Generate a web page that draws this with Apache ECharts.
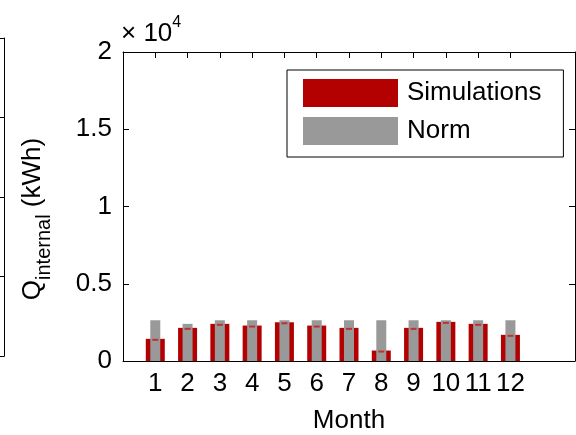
<!DOCTYPE html>
<html>
<head>
<meta charset="utf-8">
<script src="https://cdn.jsdelivr.net/npm/echarts@6/dist/echarts.min.js"></script>
<style>html,body{margin:0;padding:0;background:#fff}#c{width:576px;height:435px}</style>
</head>
<body>
<div id="c"></div>
<script>
var months = [1,2,3,4,5,6,7,8,9,10,11,12];
var simulations = [1435, 2145, 2404, 2294, 2507, 2294, 2145, 678, 2145, 2533, 2404, 1693];
var norm = [2637, 2404, 2637, 2637, 2637, 2637, 2637, 2637, 2637, 2637, 2637, 2637];
var yTicks = [0, 5000, 10000, 15000, 20000];

var FONT = 'Liberation Sans';
var chart = echarts.init(document.getElementById('c'), null, {renderer: 'canvas'});
function pairs(arr){ return arr.map(function(v,i){ return [months[i], v]; }); }
var axisLineStyle = {color:'#000', width:1};
var option = {
  backgroundColor: '#fff',
  animation: false,
  textStyle: {fontFamily: FONT, color: '#000'},
  grid: [
    {left: 123, right: 1, top: 52, bottom: 74, containLabel: false, outerBoundsMode: 'none'},
    {left: 0, width: 4, top: 38, bottom: 79, containLabel: false, outerBoundsMode: 'none'}
  ],
  xAxis: [
    {gridIndex:0, type:'value', min:0, max:14, interval:1, position:'bottom',
     axisLine:{show:true, onZero:false, lineStyle:axisLineStyle},
     axisTick:{show:true, inside:true, length:6, customValues: months, lineStyle:axisLineStyle},
     axisLabel:{show:true, customValues: months, fontSize:26, color:'#000', margin:10, fontFamily:FONT},
     splitLine:{show:false},
     name:'Month', nameLocation:'middle', nameGap:47, nameTextStyle:{fontSize:26, color:'#000', fontFamily:FONT}},
    {gridIndex:0, type:'value', min:0, max:14, interval:1, position:'top',
     axisLine:{show:true, onZero:false, lineStyle:axisLineStyle},
     axisTick:{show:true, inside:true, length:6, customValues: months, lineStyle:axisLineStyle},
     axisLabel:{show:false}, splitLine:{show:false}},
    {gridIndex:1, type:'value', min:0, max:1, position:'bottom',
     axisLine:{show:true, onZero:false, lineStyle:axisLineStyle}, axisTick:{show:false}, axisLabel:{show:false}, splitLine:{show:false}},
    {gridIndex:1, type:'value', min:0, max:1, position:'top',
     axisLine:{show:true, onZero:false, lineStyle:axisLineStyle}, axisTick:{show:false}, axisLabel:{show:false}, splitLine:{show:false}}
  ],
  yAxis: [
    {gridIndex:0, type:'value', min:0, max:20000, interval:5000, position:'left',
     axisLine:{show:true, onZero:false, lineStyle:axisLineStyle},
     axisTick:{show:true, inside:true, length:6, lineStyle:axisLineStyle},
     axisLabel:{show:true, fontSize:26, color:'#000', margin:11, fontFamily:FONT,
       formatter:function(v){ return String(v/10000); }},
     splitLine:{show:false}},
    {gridIndex:0, type:'value', min:0, max:20000, interval:5000, position:'right',
     axisLine:{show:true, onZero:false, lineStyle:axisLineStyle},
     axisTick:{show:true, inside:true, length:6, lineStyle:axisLineStyle},
     axisLabel:{show:false}, splitLine:{show:false}},
    {gridIndex:1, type:'value', min:0, max:4, interval:1, position:'right',
     axisLine:{show:true, onZero:false, lineStyle:axisLineStyle},
     axisTick:{show:true, inside:true, length:4, lineStyle:axisLineStyle},
     axisLabel:{show:false}, splitLine:{show:false}}
  ],
  legend: {
    orient:'vertical', left:287, top:70,
    data:['Simulations','Norm'],
    icon:'rect', itemWidth:95, itemHeight:28, itemGap:10,
    padding:[9,22,12,16],
    borderColor:'#000', borderWidth:1, backgroundColor:'#fff',
    textStyle:{fontSize:26, color:'#000', fontFamily:FONT, padding:[0,0,0,4]}
  },
  graphic: [
    {type:'text', left:121, top:15, silent:true,
     style:{text:'{a|× 10}{s|4}', rich:{
       a:{fontSize:26, fontFamily:FONT, fill:'#000', lineHeight:32, verticalAlign:'bottom'},
       s:{fontSize:16, fontFamily:FONT, fill:'#000', lineHeight:32, verticalAlign:'top'}}}},
    {type:'text', x:37, y:219, rotation:Math.PI/2, silent:true,
     style:{text:'{q|Q}{s|internal}{q| (kWh)}', align:'center', verticalAlign:'middle', rich:{
       q:{fontSize:26, fontFamily:FONT, fill:'#000', lineHeight:34, verticalAlign:'top'},
       s:{fontSize:20, fontFamily:FONT, fill:'#000', lineHeight:34, verticalAlign:'bottom'}}}}
  ],
  series: [
    {name:'Simulations', type:'bar', xAxisIndex:0, yAxisIndex:0, barWidth:19,
     data: pairs(simulations), itemStyle:{color:'#b30000'}},
    {name:'Norm', type:'bar', xAxisIndex:1, yAxisIndex:0, barWidth:10,
     data: pairs(norm), itemStyle:{color:'#999999'}},
    {name:'SimMark', type:'scatter', xAxisIndex:0, yAxisIndex:0, symbol:'rect', symbolSize:[6,2], symbolOffset:[0,1],
     data: pairs(simulations), itemStyle:{color:'#c81818'}, z:5, silent:true}
  ]
};
chart.setOption(option);
</script>
</body>
</html>
